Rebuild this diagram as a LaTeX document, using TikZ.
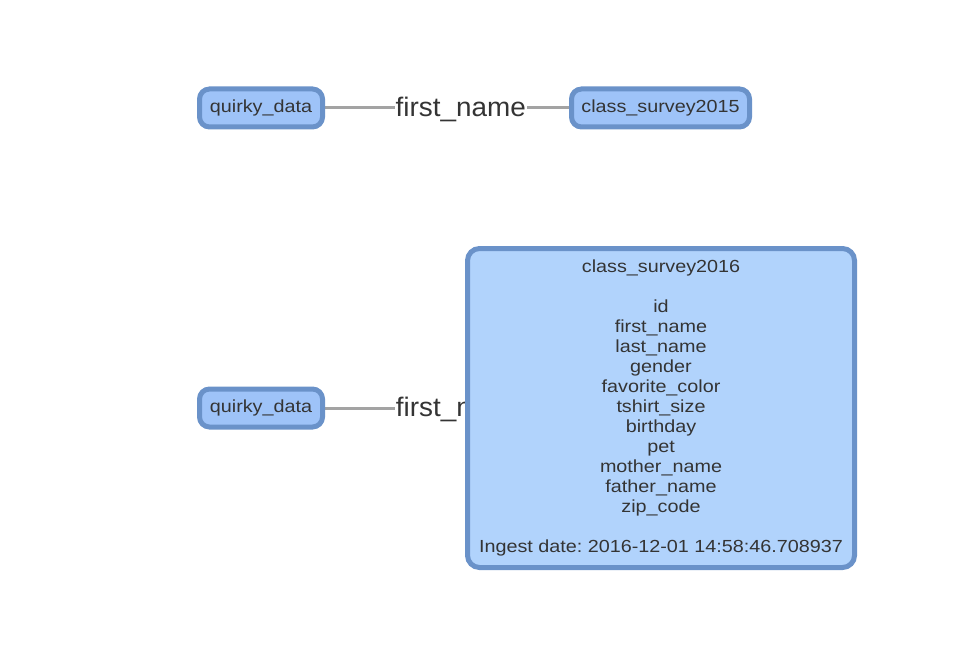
\documentclass[tikz,border=0pt]{standalone}
\usepackage{fontspec}
\setmainfont{Liberation Sans}[FakeStretch=1.13]
\newfontfamily\labelfont{Liberation Sans}[FakeStretch=1.04]
\usepackage{tikz}
\usetikzlibrary{positioning,backgrounds}
\definecolor{nodefill}{HTML}{9EC3F8}
\definecolor{tablefill}{HTML}{B1D3FC}
\definecolor{nodeborder}{HTML}{6A92C9}
\definecolor{edgegray}{HTML}{A3A3A3}
\definecolor{textgray}{HTML}{343434}
\tikzset{
  smallnode/.style={rectangle, rounded corners=10pt, draw=nodeborder, fill=nodefill, line width=5pt,
                    minimum height=38pt, inner sep=0pt, text=textgray, font=\fontsize{17.5}{20}\selectfont},
  tablenode/.style={rectangle, rounded corners=12pt, draw=nodeborder, fill=tablefill, line width=5pt,
                    minimum width=387pt, minimum height=319pt, inner sep=0pt, align=center,
                    text=textgray, font=\fontsize{17.5}{20}\selectfont},
  edge/.style={draw=edgegray, line width=3pt},
  elabel/.style={fill=white, inner xsep=1pt, inner ysep=2pt, text=textgray, yshift=-1.5pt,
                 font=\labelfont\fontsize{26.8}{30}\selectfont},
}

\begin{document}
\frenchspacing
\begin{tikzpicture}[x=1pt, y=-1pt]
  \useasboundingbox (0,0) rectangle (968,668);
  \node[smallnode, minimum width=123pt] (node1) at (261,108) {quirky\_data};
  \node[smallnode, minimum width=178pt] (node2) at (660.5,108) {class\_survey2015};
  \node[smallnode, minimum width=123pt] (node3) at (261,408) {quirky\_data};
  \node[tablenode] (node4) at (661,408) {class\_survey2016\\[20pt]
    id\\first\_name\\last\_name\\gender\\favorite\_color\\tshirt\_size\\birthday\\pet\\
    mother\_name\\father\_name\\zip\_code\\[20pt]
    Ingest date: 2016-12-01 14:58:46.708937};

  \begin{scope}[on background layer]
    \draw[edge] (node1.center) -- node[elabel] {first\_name} (node2.center);
    \draw[edge] (node3.center) -- node[elabel] {first\_name} (node4.center);
  \end{scope}
\end{tikzpicture}
\end{document}
